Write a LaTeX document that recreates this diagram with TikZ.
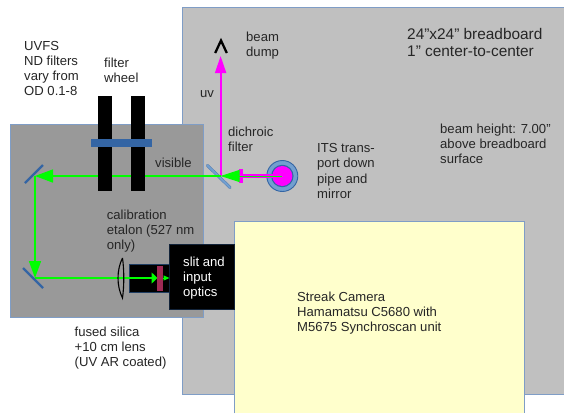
\documentclass[tikz,border=0pt]{standalone}
\usepackage{fontspec}
\setmainfont{Liberation Sans}
\usetikzlibrary{arrows.meta}
\definecolor{board}{HTML}{C0C0C0}
\definecolor{tablegray}{HTML}{999999}
\definecolor{edgeblue}{HTML}{7F9DC6}
\definecolor{steel}{HTML}{3465A4}
\definecolor{paleyel}{HTML}{FFFFCC}
\definecolor{beamgreen}{HTML}{00FF00}
\definecolor{beammag}{HTML}{FF00FF}
\definecolor{ringblue}{HTML}{729FCF}
\definecolor{maroon2}{HTML}{9E2A55}
\tikzset{
 x=1pt,y=-1pt,
 lab/.style={font=\fontsize{13.1}{15.1}\selectfont,text=black!85,align=left,anchor=north west,inner sep=0pt},
 plate/.style={draw=edgeblue,line width=.8pt},
 wheelbar/.style={fill=black,minimum width=14pt,minimum height=95pt,inner sep=0pt,anchor=north west},
 mirror/.style={draw=steel,line width=2.4pt},
 gbeam/.style={draw=beamgreen,line width=1.6pt},
 mbeam/.style={draw=beammag,line width=1.8pt},
 garrow/.style={gbeam,-{Triangle[length=17pt,width=12pt]}},
 marrow/.style={mbeam,-{Triangle[length=17pt,width=11pt]}},
}
\begin{document}
\begin{tikzpicture}
\useasboundingbox (0,0) rectangle (564,413);
\fill[white] (0,0) rectangle (564,413);
% breadboard, running off the right edge
\node[fill=board,minimum width=382pt,minimum height=386pt,inner sep=0pt,anchor=north west] (bb) at (182,7.7) {};
\draw[edgeblue,line width=.8pt] (bb.north east) -- (bb.north west) -- (bb.south west) -- (bb.south east);
\node[plate,fill=tablegray,minimum width=193pt,minimum height=193pt,inner sep=0pt,anchor=north west] (tbl) at (10.3,123.7) {};
% streak camera, running off the bottom edge
\node[fill=paleyel,minimum width=290pt,minimum height=192pt,inner sep=0pt,anchor=north west] (cam) at (234.3,221) {};
\draw[edgeblue,line width=.8pt] (cam.south west) -- (cam.north west) -- (cam.north east) -- (cam.south east);
\node[wheelbar] (w1) at (98,95.7) {};
\node[wheelbar] (w2) at (131,95.7) {};
\coordinate (mA) at (35,176);
\coordinate (mB) at (35,278);
\coordinate (dc) at (220.6,176);
\coordinate (its) at (282.3,176);
\coordinate (dump) at (220.6,56);
\node[fill=black,draw=steel!60!black,line width=.6pt,minimum width=40pt,minimum height=28pt,inner sep=0pt,anchor=north west] (camhead) at (129.3,264) {};
% green path
\draw[gbeam] (dc) -- (w2.east |- dc);
\draw[gbeam] (w2.west |- dc) -- (w1.east |- dc);
\draw[garrow,-{Triangle[length=18pt,width=13pt]}] (w1.west |- dc) -- (mA);
\draw[garrow] (mA) -- (mB);
\draw[gbeam,-{Triangle[length=6pt,width=11pt]}] (mB) -- (157.5,278);
\fill[steel] (91,139.3) rectangle (151.7,147.3);
\draw[mirror] (25,183) -- (43,165);
\draw[mirror] (23,268) -- (43,288);
\draw[line width=1.1pt] (122.5,258) .. controls (116.5,270) and (116.5,286) .. (122.5,298) .. controls (124.2,286) and (124.2,270) .. (122.5,258);
\fill[maroon2] (157,265.7) rectangle (163,290.7);
\node[fill=black,draw=steel!35!black,line width=.4pt,minimum width=65pt,minimum height=65pt,inner sep=0pt,anchor=north west] (slit) at (169.3,244.3) {};
\draw[gbeam,line width=1pt,-{Triangle[length=6pt,width=5pt]}] (163,278) -- (169.5,278);
\node[lab,text=white] at (183,257) {slit and\\input\\optics};
% uv path
\draw[marrow] (dc) -- (dump);
\draw[line width=3pt,draw=steel!85!white,line cap=round] (207.5,165.5) -- (230,187.5);
\draw[line width=2pt,draw=ringblue,line cap=round] (207.5,165.5) -- (230,187.5);
\node[circle,fill=ringblue,draw=steel,line width=.9pt,minimum size=31pt,inner sep=0pt] (ringo) at (its) {};
\node[circle,fill=steel,minimum size=22.5pt,inner sep=0pt] (ringm) at (its) {};
\node[circle,fill=beammag,minimum size=20pt,inner sep=0pt] (ringi) at (its) {};
\fill[beammag] (239,169) rectangle (243,183);
\draw[beammag,line width=3.4pt] (its) -- (240,176);
\draw[gbeam,line width=1pt] (its) -- (240,176);
\draw[gbeam,line width=1pt,-{Triangle[length=19pt,width=12pt]}] (240,176) -- (dc);
\draw[gbeam] (dc) -- (209,176);
\draw[line width=2.3pt,line join=miter] (215.2,53) -- (221,40.5) -- (226.8,53);
\node[lab] at (24,41) {UVFS\\ND filters\\vary from\\OD 0.1-8};
\node[lab] at (104,58) {filter\\wheel};
\node[lab] at (246,32) {beam\\dump};
\node[lab] at (200,90) {uv};
\node[lab] at (228,127) {dichroic\\filter};
\node[lab] at (155,157.5) {visible};
\node[lab] at (317,143.5) {ITS trans-\\port down\\pipe and\\mirror};
\node[lab] at (106.7,210) {calibration\\etalon (527 nm\\only)};
\node[lab] at (74.5,327) {fused silica\\+10 cm lens\\(UV AR coated)};
\node[lab] at (297,292) {Streak Camera\\Hamamatsu C5680 with\\M5675 Synchroscan unit};
\node[lab] at (440,124) {beam height: 7.00”\\above breadboard\\surface};
\node[lab,font=\fontsize{15.4}{17}\selectfont] at (407,28) {24”x24” breadboard\\1” center-to-center};
\end{tikzpicture}
\end{document}
